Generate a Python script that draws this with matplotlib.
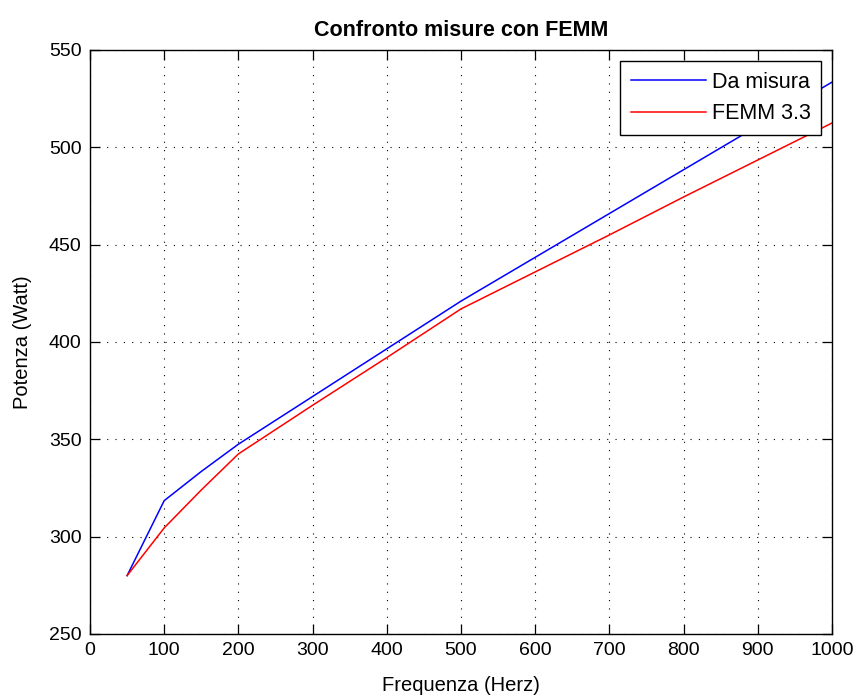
import matplotlib
matplotlib.use("Agg")
import matplotlib.pyplot as plt

# Frequency sweep (Hz) and dissipated power (W)
freq = [50, 100, 150, 200, 300, 400, 500, 600, 700, 800, 900, 1000]
power_measured = [280, 318.5, 333.5, 347.5, 372, 396.5, 421, 443.5, 466, 488.5, 511, 533.5]
power_femm = [280, 304.5, 324, 342.5, 367.5, 392, 417, 436, 455, 474.5, 493.5, 512.5]

x_ticks = [0, 100, 200, 300, 400, 500, 600, 700, 800, 900, 1000]
y_ticks = [250, 300, 350, 400, 450, 500, 550]

plt.rcParams['font.family'] = ['Liberation Sans', 'DejaVu Sans']

fig = plt.figure(figsize=(8.56, 6.95), dpi=100)
ax = fig.add_axes([90 / 856, 1 - 634 / 695, 742 / 856, 584 / 695])

ax.plot(freq, power_measured, color=(0, 0, 1), lw=1.1, label='Da misura')
ax.plot(freq, power_femm, color=(1, 0, 0), lw=1.1, label='FEMM 3.3')

ax.set_xlim(0, 1000)
ax.set_ylim(250, 550)
ax.set_xticks(x_ticks)
ax.set_yticks(y_ticks)
ax.tick_params(direction='in', length=7, width=0.9, top=True, right=True,
               labelsize=14, pad=6)
ax.grid(True, color='black', linestyle=(0, (1, 6.5)), linewidth=0.8)
for s in ax.spines.values():
    s.set_linewidth(1.0)

ax.set_title('Confronto misure con FEMM', fontsize=15.5, fontweight='bold', pad=10)
ax.set_xlabel('Frequenza (Herz)', fontsize=14.5, labelpad=12)
ax.set_ylabel('Potenza (Watt)', fontsize=14.5, labelpad=12)

leg = ax.legend(loc='upper right', fontsize=15.5, fancybox=False, framealpha=1,
                edgecolor='black', borderaxespad=0.5, handlelength=3.5,
                handletextpad=0.25, borderpad=0.5, labelspacing=0.5)
leg.get_frame().set_linewidth(1.0)

fig.savefig('out.png', dpi=100, facecolor='white')
